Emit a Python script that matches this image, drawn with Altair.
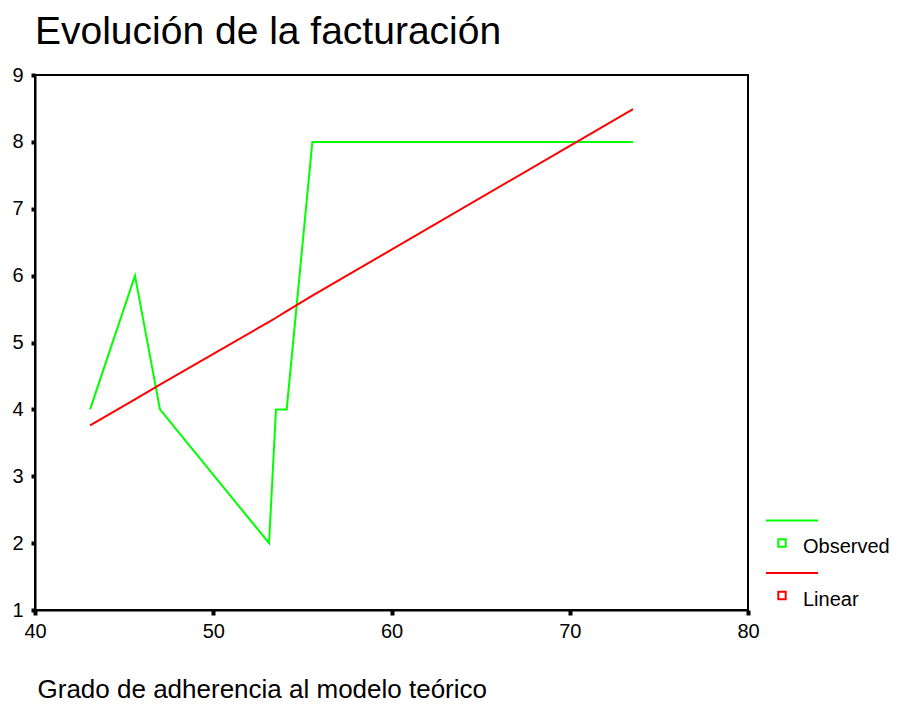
import altair as alt
import pandas as pd

# Observed series (x = grado de adherencia, y = facturación)
obs_x = [43.09, 45.61, 47.01, 53.13, 53.52, 54.12, 55.56, 73.55]
obs_y = [4, 6, 4, 2, 4, 4, 8, 8]

# Linear fit (predicted values at the observed x)
lin_x = [43.09, 45.61, 47.01, 53.13, 53.52, 54.12, 55.56, 73.55]
lin_y = [3.76, 4.15, 4.37, 5.31, 5.37, 5.47, 5.70, 8.49]

x_ticks = [40, 50, 60, 70, 80]
y_ticks = [1, 2, 3, 4, 5, 6, 7, 8, 9]

legend_names = ["Observed", "Linear"]
legend_colors = ["#00ff00", "#ff0000"]

FONT = "Liberation Sans"

obs_df = pd.DataFrame({"x": obs_x, "y": obs_y, "o": range(len(obs_x))})
lin_df = pd.DataFrame({"x": lin_x, "y": lin_y, "o": range(len(lin_x))})

x_enc = alt.X(
    "x:Q",
    scale=alt.Scale(domain=[40, 80], nice=False, zero=False),
    axis=alt.Axis(
        values=x_ticks, title="Grado de adherencia al modelo teórico",
        titleX=2, titleY=87, titleAlign="left", titleBaseline="alphabetic",
        titleAnchor="start",
        labelFlush=False, labelPadding=6, tickSize=5,
    ),
)
y_enc = alt.Y(
    "y:Q",
    scale=alt.Scale(domain=[1, 9], nice=False, zero=False),
    axis=alt.Axis(values=y_ticks, title=None, labelFlush=False, labelPadding=8, tickSize=4),
)

obs_line = alt.Chart(obs_df).mark_line(color="#00ff00", strokeWidth=2).encode(
    x=x_enc, y=y_enc, order="o:Q"
)
lin_line = alt.Chart(lin_df).mark_line(color="#ff0000", strokeWidth=2).encode(
    x=x_enc, y=y_enc, order="o:Q"
)

layers = [obs_line, lin_line]
row_step = 52.5
for i, (name, col) in enumerate(zip(legend_names, legend_colors)):
    ld = pd.DataFrame({"label": [name]})
    base_y = 445.5 + i * row_step
    layers.append(
        alt.Chart(ld).mark_rule(color=col, strokeWidth=2).encode(
            x=alt.value(731), x2=alt.value(783), y=alt.value(base_y)
        )
    )
    layers.append(
        alt.Chart(ld).mark_point(shape="square", filled=False, color=col,
                                 size=55, strokeWidth=2, opacity=1).encode(
            x=alt.value(747), y=alt.value(base_y + 22.5)
        )
    )
    layers.append(
        alt.Chart(ld).mark_text(align="left", baseline="alphabetic", fontSize=20,
                                font=FONT, color="black").encode(
            x=alt.value(768), y=alt.value(base_y + 32.5), text="label:N"
        )
    )

chart = alt.layer(*layers).properties(
    width=713,
    height=535,
    background="white",
    autosize=alt.AutoSizeParams(type="none"),
    padding={"left": 27, "top": 67, "right": 144, "bottom": 95},
    title=alt.TitleParams(
        "Evolución de la facturación", anchor="start", frame="group", fontSize=39,
        font=FONT, fontWeight="normal", color="black", baseline="alphabetic",
        offset=20, dy=38,
    ),
).configure_view(
    stroke="black", strokeWidth=2
).configure_axis(
    grid=False, domainColor="black", domainWidth=2, tickColor="black", tickWidth=4,
    labelFont=FONT, labelFontSize=20, labelColor="black", labelOverlap=False,
    titleFont=FONT, titleFontSize=26, titleFontWeight="normal", titleColor="black",
)

chart.save("out.html", embed_options={"renderer": "svg", "actions": False})
